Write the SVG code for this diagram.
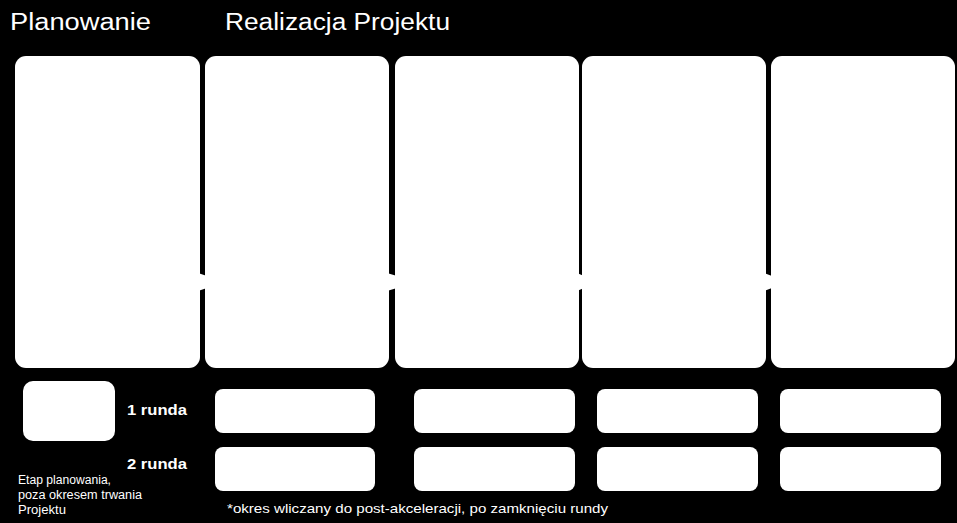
<svg xmlns="http://www.w3.org/2000/svg" width="957" height="523" viewBox="0 0 957 523">
<style>
.big{fill:#fff;}
.sm{fill:#fff;}
.t{font-family:"Liberation Sans",Arial,sans-serif;fill:#fff;}
.title{font-size:23px;}
.lbl{font-size:15.5px;font-weight:bold;}
.note{font-size:12px;}
.foot{font-size:13px;}
</style>
<rect x="0" y="0" width="957" height="523" fill="#000"/>
<g id="titles">
<text class="t title" x="10" y="30" textLength="141" lengthAdjust="spacingAndGlyphs">Planowanie</text>
<text class="t title" x="225" y="30" textLength="225" lengthAdjust="spacingAndGlyphs">Realizacja Projektu</text>
</g>
<g id="stage-planning"><rect class="big" x="15" y="56" width="185" height="312" rx="11"/></g>
<g id="stage-2"><rect class="big" x="205" y="56" width="184" height="312" rx="11"/></g>
<g id="stage-3"><rect class="big" x="395" y="56" width="184" height="312" rx="11"/></g>
<g id="stage-4"><rect class="big" x="582" y="56" width="184" height="312" rx="11"/></g>
<g id="stage-5"><rect class="big" x="771" y="56" width="184" height="312" rx="11"/></g>
<g id="connectors">
<polygon class="big" points="198,273 207,276 207,288 198,291"/>
<polygon class="big" points="387,273 397,276 397,288 387,291"/>
<polygon class="big" points="577,273 584,276 584,288 577,291"/>
<polygon class="big" points="764,273 772,276 772,288 764,291"/>
</g>
<g id="planning-legend">
<rect class="sm" x="23" y="381" width="92" height="60" rx="10"/>
<text class="t note" x="18" y="484" textLength="93" lengthAdjust="spacingAndGlyphs">Etap planowania,</text>
<text class="t note" x="18" y="499" textLength="124" lengthAdjust="spacingAndGlyphs">poza okresem trwania</text>
<text class="t note" x="18" y="514" textLength="48" lengthAdjust="spacingAndGlyphs">Projektu</text>
</g>
<g id="round-labels">
<text class="t lbl" x="127" y="415" textLength="60" lengthAdjust="spacingAndGlyphs">1 runda</text>
<text class="t lbl" x="127" y="469" textLength="60" lengthAdjust="spacingAndGlyphs">2 runda</text>
</g>
<g id="round1">
<rect class="sm" x="215" y="389" width="160" height="44" rx="8"/>
<rect class="sm" x="414" y="389" width="161" height="44" rx="8"/>
<rect class="sm" x="597" y="389" width="161" height="44" rx="8"/>
<rect class="sm" x="780" y="389" width="161" height="44" rx="8"/>
</g>
<g id="round2">
<rect class="sm" x="215" y="447" width="160" height="44" rx="8"/>
<rect class="sm" x="414" y="447" width="161" height="44" rx="8"/>
<rect class="sm" x="597" y="447" width="161" height="44" rx="8"/>
<rect class="sm" x="780" y="447" width="161" height="44" rx="8"/>
</g>
<text class="t foot" x="227" y="513" textLength="381" lengthAdjust="spacingAndGlyphs">*okres wliczany do post-akceleracji, po zamknięciu rundy</text>
</svg>
